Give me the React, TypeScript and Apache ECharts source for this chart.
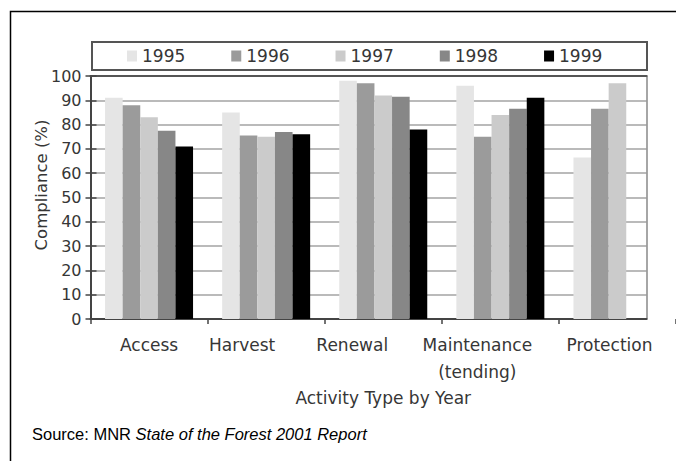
import React, { useEffect, useRef } from "react";
import * as echarts from "echarts";

const categories = ["Access", "Harvest", "Renewal", "Maintenance\n(tending)", "Protection"];
const years = ["1995", "1996", "1997", "1998", "1999"];
const v1995 = [91, 85, 98, 96, 66.5];
const v1996 = [88, 75.5, 97, 75, 86.5];
const v1997 = [83, 75, 92, 84, 97];
const v1998 = [77.5, 77, 91.5, 86.5, null];
const v1999 = [71, 76, 78, 91, null];
const seriesValues = [v1995, v1996, v1997, v1998, v1999];

const barColors = ["#e5e5e5", "#9b9b9b", "#cbcbcb", "#878787", "#000000"];
const labelShift = [0, 48, 62, 46, 16];

const FONT = "DejaVu Sans";
const TXT = "#363636";

export default function App() {
  const ref = useRef<HTMLDivElement>(null);
  useEffect(() => {
    document.body.style.margin = "0";
    const chart = echarts.init(ref.current!, null, { renderer: "svg" });
    const option: any = {
      animation: false,
      backgroundColor: "#ffffff",
      grid: [
        { left: 90.5, top: 76, width: 586, height: 243 },
        { left: 90.5, top: 76, width: 556, height: 243 },
      ],
      legend: {
        data: years,
        left: 127,
        top: 47,
        padding: 0,
        itemWidth: 10,
        itemHeight: 11,
        itemGap: 46,
        icon: "rect",
        textStyle: { fontFamily: FONT, fontSize: 17, color: TXT, lineHeight: 18 },
      },
      xAxis: [
        {
          type: "category",
          gridIndex: 0,
          data: categories.map((c, i) => ({
            value: c,
            textStyle: { padding: [0, labelShift[i], 0, 0] },
          })),
          axisLine: { show: false },
          axisTick: { show: true, length: 5, lineStyle: { color: "#444", width: 1.5 } },
          axisLabel: {
            interval: 0,
            fontFamily: FONT,
            fontSize: 17,
            color: TXT,
            margin: 12,
            lineHeight: 27,
          },
          splitLine: { show: false },
          name: "Activity Type by Year",
          nameLocation: "middle",
          nameGap: 70,
          nameTextStyle: { fontFamily: FONT, fontSize: 17, color: TXT },
        },
        {
          type: "value",
          gridIndex: 1,
          min: 0,
          max: 1,
          position: "bottom",
          axisLine: { show: true, onZero: false, lineStyle: { color: "#444", width: 2 } },
          axisTick: { show: false },
          axisLabel: { show: false },
          splitLine: { show: false },
        },
        {
          type: "value",
          gridIndex: 1,
          min: 0,
          max: 1,
          position: "top",
          axisLine: { show: true, onZero: false, lineStyle: { color: "#555", width: 2 } },
          axisTick: { show: false },
          axisLabel: { show: false },
          splitLine: { show: false },
        },
      ],
      yAxis: [
        {
          type: "value",
          gridIndex: 0,
          min: 0,
          max: 100,
          interval: 10,
          axisLine: { show: false, onZero: false },
          axisLabel: { show: false },
          splitLine: { show: false },
          axisTick: { show: true, inside: true, length: 6, lineStyle: { color: "#444", width: 1.5 } },
        },
        {
          type: "value",
          gridIndex: 1,
          min: 0,
          max: 100,
          interval: 10,
          position: "left",
          axisLine: { show: true, onZero: false, lineStyle: { color: "#444", width: 2 } },
          axisTick: { show: true, length: 5, lineStyle: { color: "#444", width: 1.5 } },
          axisLabel: { fontFamily: FONT, fontSize: 16, color: TXT, margin: 9 },
          splitLine: { show: true, lineStyle: { color: "#a3a3a3", width: 1.5 } },
        },
        {
          type: "value",
          gridIndex: 1,
          min: 0,
          max: 100,
          interval: 10,
          position: "right",
          axisLine: { show: true, onZero: false, lineStyle: { color: "#888", width: 1.5 } },
          axisTick: { show: false },
          axisLabel: { show: false },
          splitLine: { show: false },
        },
      ],
      series: years.map((y, i) => ({
        name: y,
        type: "bar",
        xAxisIndex: 0,
        yAxisIndex: 0,
        barWidth: 17.6,
        barGap: "0%",
        data: seriesValues[i],
        itemStyle: { color: barColors[i] },
      })),
      graphic: [
        {
          type: "rect",
          silent: true,
          shape: { x: 10.5, y: 11.5, width: 700, height: 500 },
          style: { fill: "none", stroke: "#000", lineWidth: 1.5 },
        },
        {
          type: "rect",
          silent: true,
          shape: { x: 92, y: 42, width: 555, height: 28 },
          style: { fill: "none", stroke: "#555", lineWidth: 2 },
        },
        {
          type: "text",
          silent: true,
          x: 41.5,
          y: 185,
          rotation: Math.PI / 2,
          style: {
            text: "Compliance (%)",
            fontFamily: FONT,
            fontSize: 16.5,
            fill: TXT,
            align: "center",
            verticalAlign: "middle",
          },
        },
        {
          type: "text",
          silent: true,
          x: 32,
          y: 434,
          style: {
            text: "{a|Source: MNR }{b|State of the Forest 2001 Report}",
            verticalAlign: "middle",
            rich: {
              a: { fontFamily: "Liberation Sans", fontSize: 16.5, fill: "#000" },
              b: { fontFamily: "Liberation Sans", fontSize: 16.5, fontStyle: "italic", fill: "#000" },
            },
          },
        },
      ],
    };
    chart.setOption(option);
    return () => chart.dispose();
  }, []);
  return <div ref={ref} style={{ width: 676, height: 461 }} />;
}
